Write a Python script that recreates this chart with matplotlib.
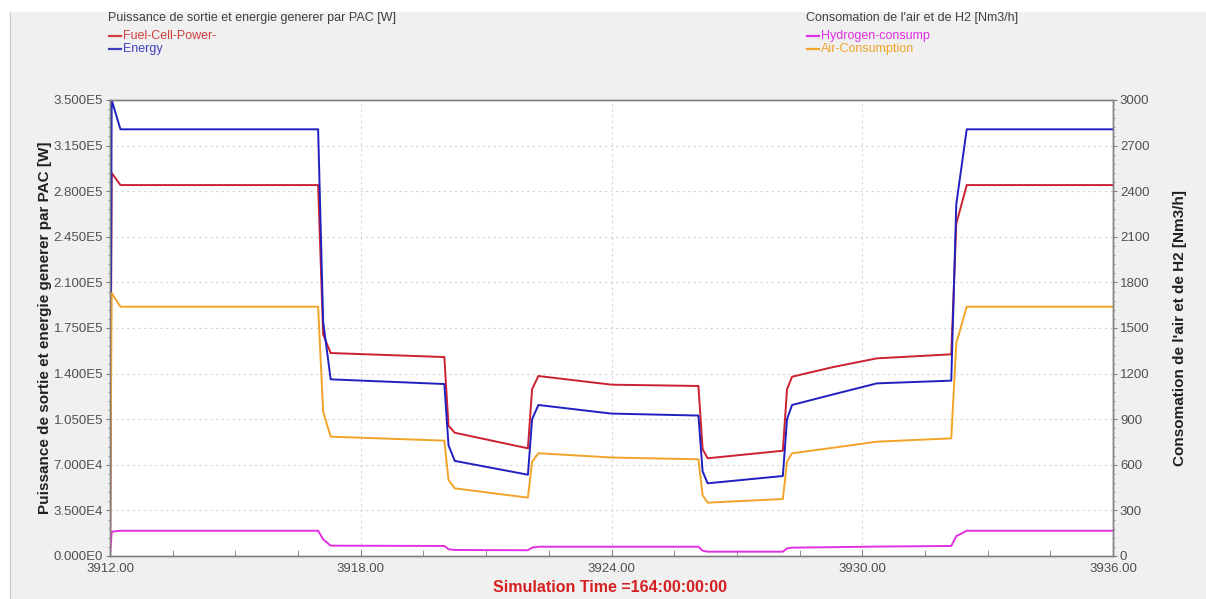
import matplotlib
matplotlib.use("Agg")
import numpy as np
import matplotlib.pyplot as plt
from matplotlib.lines import Line2D
from matplotlib.patches import Rectangle
from matplotlib.ticker import MultipleLocator, FuncFormatter

plt.rcParams['font.family'] = ['Liberation Sans', 'DejaVu Sans']

# Simulation hours (shared time base for all four signals)
time_h = [3912.00, 3912.04, 3912.25, 3916.98, 3917.10, 3917.28,
          3920.00, 3920.10, 3920.25, 3922.00, 3922.10, 3922.25,
          3924.00, 3926.08, 3926.18, 3926.30, 3928.10, 3928.20,
          3928.32, 3929.30, 3930.35, 3932.13, 3932.25, 3932.50, 3936.00]

# Left axis [W]
fuel_cell_power = [0, 294000, 284700, 284700, 170000, 155800,
                   152700, 100000, 94600, 82650, 128000, 138150,
                   131500, 130500, 82000, 75000, 80800, 128000,
                   137600, 145000, 151700, 154800, 255000, 284700, 284700]
energy = [0, 350000, 327500, 327500, 180000, 135600,
          132000, 85000, 73000, 62400, 105000, 115900,
          109300, 107800, 65000, 55800, 61400, 105000,
          115900, 124000, 132500, 134600, 270000, 327500, 327500]

# Right axis [Nm3/h]
hydrogen_consump = [0, 160, 166, 166, 110, 68,
                    66, 45, 39.5, 38, 55, 61,
                    61, 61, 35, 28.5, 28.5, 50,
                    55, 58, 62, 66, 130, 166, 166]
air_consumption = [0, 1730, 1640, 1640, 950, 785,
                   759, 500, 445, 384, 620, 676,
                   648, 636, 400, 351, 375, 620,
                   676, 712, 752, 774, 1400, 1640, 1640]

RED = '#cc2030'
BLUE = '#2020c0'
MAGENTA = '#e030e0'
ORANGE = '#f0a428'
TICK_GRAY = '#505050'

W, H = 1206, 599
fig = plt.figure(figsize=(W / 100, H / 100), dpi=100, facecolor='white')
fig.patches.append(Rectangle((10 / W, 0), 1 - 10 / W, 1 - 12 / H, transform=fig.transFigure,
                             facecolor='#f0f0f0', edgecolor='none', zorder=-10))
fig.add_artist(Line2D([10 / W, 10 / W], [0, 1 - 12 / H], transform=fig.transFigure,
                      color='#c8c8c8', lw=0.8))

ax = fig.add_axes([110 / W, 1 - 556 / H, (1113 - 110) / W, (556 - 100) / H])
ax.set_facecolor('white')
ax2 = ax.twinx()

ax.plot(time_h, fuel_cell_power, color=RED, lw=1.4, zorder=3)
ax.plot(time_h, energy, color=BLUE, lw=1.4, zorder=3)
ax2.plot(time_h, hydrogen_consump, color=MAGENTA, lw=1.4)
ax2.plot(time_h, air_consumption, color=ORANGE, lw=1.4)

ax.set_xlim(3912, 3936)
ax.set_ylim(0, 350000)
ax2.set_ylim(0, 3000)


def sci_label(v, pos):
    if v == 0:
        return "0.000E0"
    exp = int(np.floor(np.log10(abs(v)) + 1e-9))
    return f"{v / 10 ** exp:.3f}E{exp}"


ax.xaxis.set_major_locator(MultipleLocator(6))
ax.xaxis.set_minor_locator(MultipleLocator(1.5))
ax.xaxis.set_major_formatter(FuncFormatter(lambda v, p: f"{v:.2f}"))
ax.yaxis.set_major_locator(MultipleLocator(35000))
ax.yaxis.set_minor_locator(MultipleLocator(7000))
ax.yaxis.set_major_formatter(FuncFormatter(sci_label))
ax2.yaxis.set_major_locator(MultipleLocator(300))
ax2.yaxis.set_minor_locator(MultipleLocator(60))

ax.grid(True, which='major', color='#d4d4d4', ls=(0, (2, 3)), lw=0.8)

for a in (ax, ax2):
    for s in a.spines.values():
        s.set_color('#808080')
        s.set_linewidth(1.0)
ax.tick_params(axis='x', which='both', direction='in', colors='#808080', labelcolor=TICK_GRAY,
               labelsize=9.5, length=4, pad=5)
ax.tick_params(axis='y', which='major', direction='out', colors='#808080', labelcolor=TICK_GRAY,
               labelsize=9.5, length=3, pad=2)
ax.tick_params(axis='y', which='minor', direction='out', colors='#909090', length=1.5)
ax2.tick_params(axis='y', which='major', direction='out', colors='#808080', labelcolor=TICK_GRAY,
                labelsize=9.5, length=3, pad=2)
ax2.tick_params(axis='y', which='minor', direction='out', colors='#909090', length=1.5)
# bottom labels on both value axes sit a little higher, clear of the time labels
ax.get_yticklabels()[0].set_va('bottom')
ax2.get_yticklabels()[0].set_va('bottom')

# Axis titles
mid_y = 1 - 328 / H
fig.text(45 / W, mid_y, "Puissance de sortie et energie generer par PAC [W]", rotation=90,
         ha='center', va='center', fontsize=11, fontweight='bold', color='#202020')
fig.text(1180 / W, mid_y, "Consomation de l'air et de H2 [Nm3/h]", rotation=90,
         ha='center', va='center', fontsize=11, fontweight='bold', color='#202020')
fig.text(610 / W, 1 - 587 / H, "Simulation Time =164:00:00:00", ha='center', va='center',
         fontsize=11.5, fontweight='bold', color='#d42020')


# Legend blocks above the plot
def legend_block(x_px, title, entries):
    fig.text(x_px / W, 1 - 18 / H, title, ha='left', va='center', fontsize=9, color='#404040')
    for i, (label, color) in enumerate(entries):
        y = 1 - (36 + 13 * i) / H
        fig.add_artist(Line2D([(x_px + 1) / W, (x_px + 13) / W], [y, y],
                              transform=fig.transFigure, color=color, lw=1.6))
        fig.text((x_px + 15) / W, y, label, ha='left', va='center', fontsize=9, color=color)


legend_block(108, "Puissance de sortie et energie generer par PAC [W]",
             [("Fuel-Cell-Power-", '#d04040'), ("Energy", '#4040c0')])
legend_block(806, "Consomation de l'air et de H2 [Nm3/h]",
             [("Hydrogen-consump", MAGENTA), ("Air-Consumption", ORANGE)])

fig.savefig("out.png", dpi=100, facecolor=fig.get_facecolor())
